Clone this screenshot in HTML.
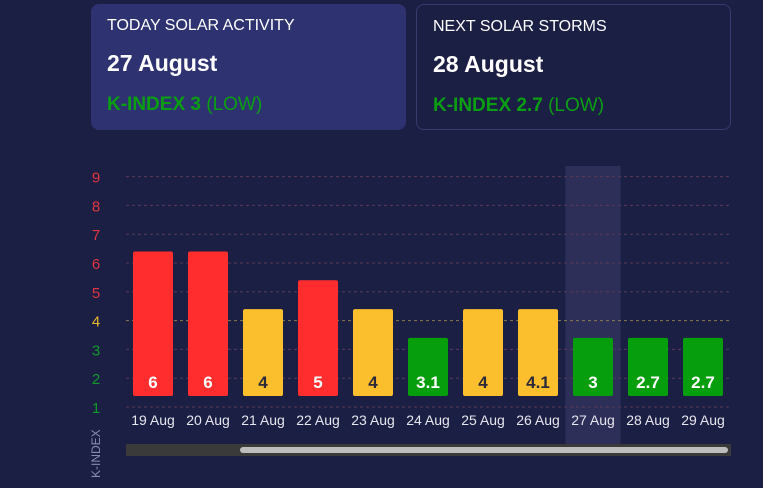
<!DOCTYPE html>
<html><head><meta charset="utf-8"><style>
body{margin:0;width:763px;height:488px;background:#1c1f44;font-family:"Liberation Sans","DejaVu Sans",sans-serif;overflow:hidden;position:relative}
.card{position:absolute;top:4px;height:126px;border-radius:8px;box-sizing:border-box}
.c1{left:91px;width:315px;background:#2e3270}
.c2{left:416px;width:315px;border:1px solid #363a6e}
.t{position:absolute;left:16px;top:13px;color:#fff;font-size:16px}
.d{position:absolute;left:16px;top:46px;color:#fff;font-size:23px;font-weight:bold}
.k{position:absolute;left:16px;top:90px;color:#0a9e12;font-size:19px}
.k b{font-weight:bold}
</style></head><body>
<div class="card c1">
<div class="t">TODAY SOLAR ACTIVITY</div>
<div class="d">27 August</div>
<div class="k"><b>K-INDEX 3</b> (LOW)</div></div>
<div class="card c2">
<div class="t">NEXT SOLAR STORMS</div>
<div class="d">28 August</div>
<div class="k"><b>K-INDEX 2.7</b> (LOW)</div></div>
<svg id="chart" width="763" height="488" style="position:absolute;left:0;top:0"></svg>
<script>
const categories=["19 Aug","20 Aug","21 Aug","22 Aug","23 Aug","24 Aug","25 Aug","26 Aug","27 Aug","28 Aug","29 Aug"];
const values=[6,6,4,5,4,3.1,4,4.1,3,2.7,2.7];
const yTicks=[1,2,3,4,5,6,7,8,9];
const highlightIndex=8;
const svg=document.getElementById('chart');const NS='http://www.w3.org/2000/svg';
function mk(t,a,p){const e=document.createElementNS(NS,t);for(const k in a)e.setAttribute(k,a[k]);(p||svg).appendChild(e);return e;}
function y(v){return 407-(v-1)*28.8;}
function x(i){return 153+i*55;}
function col(v){const r=Math.round(v);return r>=5?'#ff2d2d':r>=4?'#fbbf2d':'#069e0c';}
function tickCol(v){return v>=5?'#e0363f':v>=4?'#e8b830':'#11992a';}
const hl=mk('rect',{x:x(highlightIndex)-27.5,y:166,width:55,height:278,fill:'#2d2f59'});


yTicks.forEach(v=>{
 const g=mk('line',{x1:126,x2:731,y1:y(v),y2:y(v),stroke:v===4?'#8a7a50':'#5a3a55','stroke-dasharray':'3,3','stroke-width':1});
 
 
 const t=mk('text',{x:96,y:y(v)+6,'text-anchor':'middle',fill:tickCol(v),'font-size':15});
 t.textContent=v;
 
 
});
categories.forEach((c,i)=>{
 const r=Math.round(values[i]);const top=y(r)-11.5,bot=y(1)-11;
 const b=mk('rect',{x:x(i)-20,y:top,width:40,height:bot-top,fill:col(values[i]),rx:2});
 
 
 const vt=mk('text',{x:x(i),y:bot-8,'text-anchor':'middle',fill:r===4?'#2a2a3a':'#fff','font-size':17,'font-weight':'bold'});
 vt.textContent=values[i];
 
 
 const lt=mk('text',{x:x(i),y:425,'text-anchor':'middle',fill:'#e6e6ee','font-size':14});
 lt.textContent=c;
 
 
});
const yt=mk('text',{x:0,y:0,transform:'translate(100,478) rotate(-90)',fill:'#8a8cb0','font-size':12});
yt.textContent='K-INDEX';


const tr=mk('rect',{x:126,y:444,width:605,height:12,fill:'#3a3a3a'});


const th=mk('rect',{x:240,y:447,width:488,height:6,rx:3,fill:'#bdbdbd'});


</script>
</body></html>
